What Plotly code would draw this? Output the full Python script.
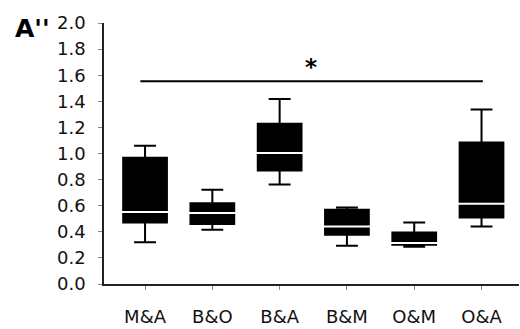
import plotly.graph_objects as go

categories = ["M&A", "B&O", "B&A", "B&M", "O&M", "O&A"]
upper_whisker = [1.06, 0.723, 1.418, 0.587, 0.472, 1.338]
q3_values = [0.968, 0.618, 1.228, 0.569, 0.395, 1.085]
medians = [0.552, 0.544, 1.004, 0.441, 0.314, 0.615]
q1_values = [0.471, 0.46, 0.870, 0.378, 0.30, 0.51]
lower_whisker = [0.32, 0.416, 0.763, 0.293, 0.285, 0.441]

y_ticks = [0.0, 0.2, 0.4, 0.6, 0.8, 1.0, 1.2, 1.4, 1.6, 1.8, 2.0]
sig_line_x = [-0.07, 5.02]
sig_line_y = 1.553
sig_star_x = 2.46
sig_star_y = 1.66

idx = list(range(len(categories)))
box_width = 0.65

fig = go.Figure()
fig.add_trace(go.Box(
    x=idx, q1=q1_values, median=medians, q3=q3_values,
    lowerfence=lower_whisker, upperfence=upper_whisker,
    width=box_width, whiskerwidth=0.5,
    fillcolor="black", line=dict(color="black", width=2),
    boxpoints=False, showlegend=False, hoverinfo="skip",
))
fig.add_trace(go.Scatter(
    x=idx, y=medians, mode="markers",
    marker=dict(symbol="line-ew", size=42, line=dict(color="white", width=2)),
    showlegend=False, hoverinfo="skip",
))
fig.add_trace(go.Scatter(
    x=sig_line_x, y=[sig_line_y, sig_line_y], mode="lines",
    line=dict(color="black", width=2), showlegend=False, hoverinfo="skip",
))

fig.add_annotation(x=sig_star_x, y=sig_star_y, text="<b>*</b>", showarrow=False,
                   font=dict(family="DejaVu Sans", size=23, color="black"),
                   xref="x", yref="y")
fig.add_annotation(x=(32 - 104) / 415, y=1 + (23 - 28) / 261, text="<b>A''</b>",
                   showarrow=False, xref="paper", yref="paper",
                   xanchor="center", yanchor="middle",
                   font=dict(family="DejaVu Sans", size=25, color="black"))

fig.update_layout(
    width=520, height=329,
    margin=dict(l=104, r=1, t=23, b=45),
    paper_bgcolor="white", plot_bgcolor="white",
    font=dict(family="DejaVu Sans", size=18, color="#111"),
    boxmode="overlay",
)
fig.update_xaxes(
    range=[-0.61, 5.557], tickmode="array", tickvals=idx, ticktext=categories,
    showgrid=False, zeroline=False, showline=True, linecolor="#222", linewidth=1.5,
    ticks="outside", ticklen=4, tickcolor="#888", ticklabelstandoff=12,
)
fig.update_yaxes(
    range=[0, 2.0], tickmode="array", tickvals=y_ticks,
    ticktext=[f"{v:.1f}" for v in y_ticks],
    showgrid=False, zeroline=False, showline=True, linecolor="#222", linewidth=1.5,
    ticks="outside", ticklen=4, tickcolor="#888", ticklabelstandoff=9,
)

fig.write_html("out.html", config={"displayModeBar": False},
               post_script="document.body.style.margin='0';document.body.style.overflow='hidden';")
